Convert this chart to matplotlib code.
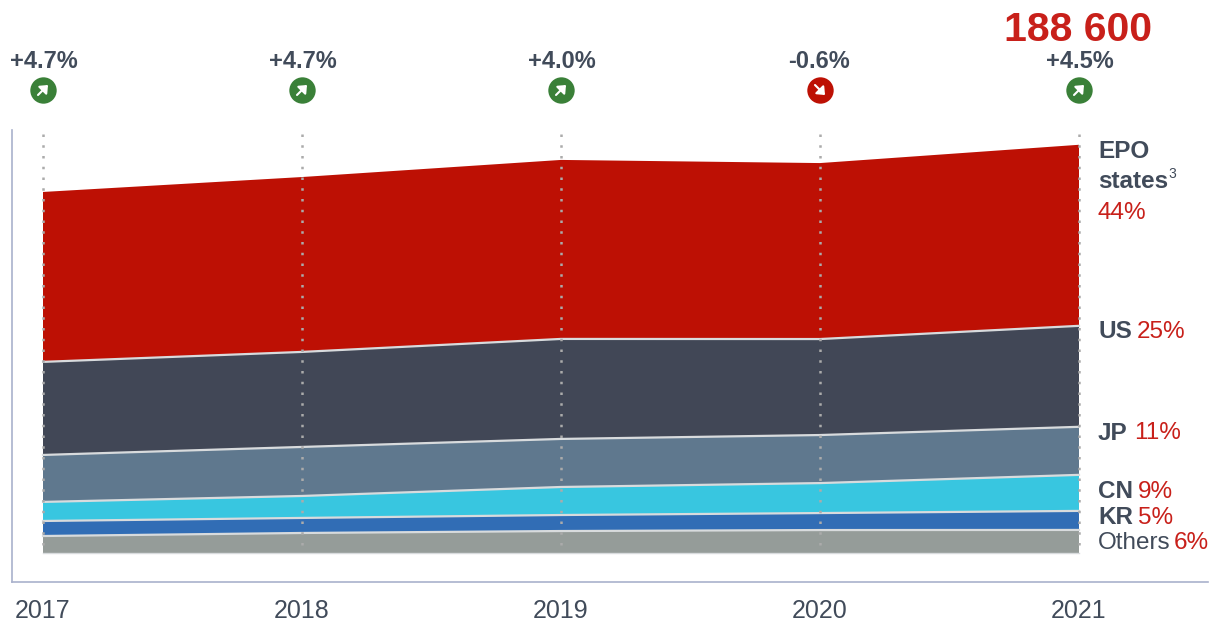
import numpy as np
import matplotlib
matplotlib.use('Agg')
import matplotlib.pyplot as plt
from matplotlib.patches import FancyArrowPatch
from matplotlib.transforms import blended_transform_factory

years = [2017, 2018, 2019, 2020, 2021]
others = [7850, 9250, 10150, 10600, 10650]
kr = [6950, 6950, 7400, 7850, 8800]
cn = [8800, 10150, 12950, 13850, 16650]
jp = [21700, 22650, 22200, 22200, 22200]
us = [43000, 43900, 46200, 44350, 46650]
epo = [78500, 80800, 82700, 81300, 83650]
growth = ['+4.7%', '+4.7%', '+4.0%', '-0.6%', '+4.5%']
total_label = '188 600'

colors = ['#959C99', '#316DB5', '#38C6E0', '#5F788E', '#414756', '#BD1004']
text_dark = '#414B5A'
text_red = '#C8201A'
spine_col = '#A9B1CC'

plt.rcParams['font.family'] = ['Liberation Sans', 'DejaVu Sans']

W, H = 1220, 621
fig = plt.figure(figsize=(W / 100, H / 100), dpi=100)
# axes box in pixels: left 12, right 1208, top 130, bottom 582
ax = fig.add_axes([12 / W, 1 - 582 / H, (1208 - 12) / W, (582 - 130) / H])

px_year = 259
px_val = 462
ax.set_xlim(2017 - 31 / px_year, 2021 + 129 / px_year)
ax.set_ylim(-29 * px_val, 423 * px_val)

series = [others, kr, cn, jp, us, epo]
ax.stackplot(years, series, colors=colors, linewidth=0)

# light separators between the bands
tops = np.cumsum(series, axis=0)
for t in tops[:-1]:
    ax.plot(years, t, color='#D8DBDD', lw=1.6, zorder=3)
ax.plot(years, [0] * 5, color='#D8DBDD', lw=1, zorder=3)

# dotted year guides, drawn downwards so the dots start at the top
for y in years:
    ax.plot([y, y], [419 * px_val, 0], color='#ABABAB', lw=1.8,
            ls=(0, (1, 3.3)), zorder=4)

for s in ['top', 'right']:
    ax.spines[s].set_visible(False)
for s in ['left', 'bottom']:
    ax.spines[s].set_color(spine_col)
    ax.spines[s].set_linewidth(1.2)
ax.set_yticks([])
ax.set_xticks(years)
ax.set_xticklabels(years, fontsize=18, color=text_dark)
ax.tick_params(axis='x', length=0, pad=12)


def label(x, y, s, color=text_dark, weight='normal', size=17.5, ha='left'):
    fig.text(x / W, 1 - y / H, s, color=color, fontweight=weight, fontsize=size,
             ha=ha, va='center')


# growth figures and arrow badges
badge_trans = blended_transform_factory(ax.transData, fig.transFigure)
for y, g in zip(years, growth):
    up = not g.startswith('-')
    col = '#3A8038' if up else '#BD1004'
    px = 43 + (y - 2017) * px_year
    label(px + (-1 if not up else 1), 62, g, weight='bold', size=17, ha='center')
    ax.plot([y], [1 - 90 / H], 'o', ms=19, color=col, mec='none', clip_on=False,
            transform=badge_trans)
    d = 1 if up else -1
    fig.add_artist(FancyArrowPatch(
        ((px - 5) / W, 1 - (90 + 5 * d) / H),
        ((px + 5) / W, 1 - (90 - 5 * d) / H),
        transform=fig.transFigure, arrowstyle='-|>,head_length=2.6,head_width=2.2',
        color='white', lw=1.5, shrinkA=0, shrinkB=0, mutation_scale=1.6, zorder=10))

label(1078, 30, total_label, color=text_red, weight='bold', size=29.5, ha='center')

# right-hand labels
label(1098, 152, 'EPO', weight='bold')
label(1098, 182, 'states', weight='bold')
label(1168, 174, '3', size=10)
label(1098, 213, '44%', color=text_red)
label(1098, 332, 'US', weight='bold')
label(1137, 332, '25%', color=text_red)
label(1098, 433, 'JP', weight='bold')
label(1134, 433, '11%', color=text_red)
label(1098, 492, 'CN', weight='bold')
label(1138, 492, '9%', color=text_red)
label(1098, 518, 'KR', weight='bold')
label(1138, 518, '5%', color=text_red)
label(1098, 543, 'Others')
label(1174, 543, '6%', color=text_red)

fig.savefig('out.png', dpi=100)
